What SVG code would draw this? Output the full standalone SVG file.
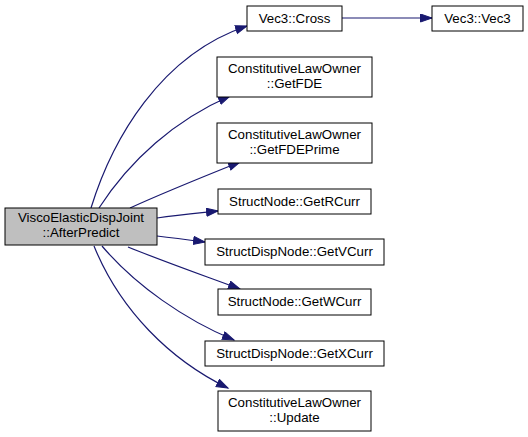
<svg xmlns="http://www.w3.org/2000/svg" width="528" height="437" viewBox="0 0 528 437">
<defs>
<style>
.n rect{fill:#fff;stroke:#000;stroke-width:1}
.n.main rect{fill:#bfbfbf}
text{font-family:"Liberation Sans",Arial,sans-serif;font-size:13.3px;fill:#000;text-anchor:middle}
.e path{fill:none;stroke:#191970;stroke-width:1.2}
</style>
<marker id="ah" markerUnits="userSpaceOnUse" markerWidth="14" markerHeight="10" refX="12" refY="4.5" orient="auto">
<path d="M0.5,0.5 L12,4.5 L0.5,8.5 Z" fill="#191970" stroke="#191970" stroke-width="1"/>
</marker>
</defs>
<rect width="528" height="437" fill="#fff"/>
<g id="edges" class="e">
<path d="M91,208 C112,140 160,55 247,26" marker-end="url(#ah)"/>
<path d="M99,208 C130,160 175,120 230,96" marker-end="url(#ah)"/>
<path d="M130,208 C165,192 205,176 240,162" marker-end="url(#ah)"/>
<path d="M157,218 C180,215 200,213 218,211" marker-end="url(#ah)"/>
<path d="M157,236 C175,238 190,240 205,242" marker-end="url(#ah)"/>
<path d="M128,247 C165,262 205,276 240,289" marker-end="url(#ah)"/>
<path d="M102,246 C135,285 185,320 234,340" marker-end="url(#ah)"/>
<path d="M94,246 C120,310 170,360 228,388" marker-end="url(#ah)"/>
<path d="M342,18 L432,18" marker-end="url(#ah)"/>
</g>
<g id="n0" class="n main"><rect x="5" y="208" width="152" height="37"/><text x="81" y="222">ViscoElasticDispJoint</text><text x="81" y="237">::AfterPredict</text></g>
<g id="n1" class="n"><rect x="247" y="6" width="95" height="25"/><text x="294.5" y="23">Vec3::Cross</text></g>
<g id="n2" class="n"><rect x="432" y="6" width="91" height="25"/><text x="477.5" y="23">Vec3::Vec3</text></g>
<g id="n3" class="n"><rect x="217" y="57" width="155" height="40"/><text x="294.5" y="73">ConstitutiveLawOwner</text><text x="294.5" y="88">::GetFDE</text></g>
<g id="n4" class="n"><rect x="217" y="123" width="155" height="40"/><text x="294.5" y="139">ConstitutiveLawOwner</text><text x="294.5" y="154">::GetFDEPrime</text></g>
<g id="n5" class="n"><rect x="218" y="189" width="153" height="25"/><text x="294.5" y="206">StructNode::GetRCurr</text></g>
<g id="n6" class="n"><rect x="205" y="239" width="179" height="26"/><text x="294.5" y="256">StructDispNode::GetVCurr</text></g>
<g id="n7" class="n"><rect x="218" y="289" width="153" height="26"/><text x="294.5" y="306">StructNode::GetWCurr</text></g>
<g id="n8" class="n"><rect x="205" y="341" width="179" height="25"/><text x="294.5" y="358">StructDispNode::GetXCurr</text></g>
<g id="n9" class="n"><rect x="218" y="391" width="153" height="40"/><text x="294.5" y="407">ConstitutiveLawOwner</text><text x="294.5" y="422">::Update</text></g>
</svg>
